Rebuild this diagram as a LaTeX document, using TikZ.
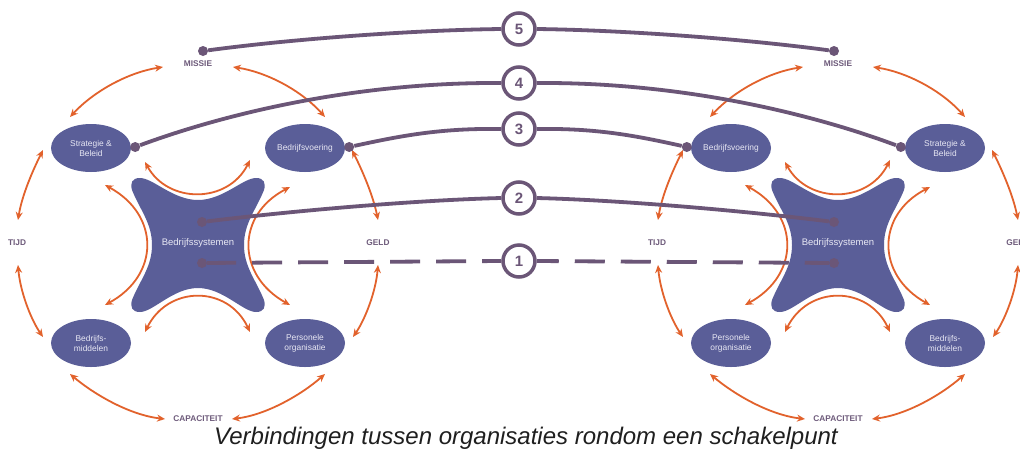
\documentclass[tikz,border=0pt]{standalone}
\usepackage{fontspec}
\setmainfont{Liberation Sans}
\usetikzlibrary{shapes.geometric,arrows.meta,calc}
\definecolor{orng}{HTML}{E2622C}
\definecolor{blu}{HTML}{5A5E98}
\definecolor{purp}{HTML}{6B5677}
\definecolor{lbl}{HTML}{6E5B7B}
\definecolor{etxt}{HTML}{E8E8F4}
\tikzset{
  ell/.style={ellipse, fill=blu, minimum width=80pt, minimum height=48pt, inner sep=0pt,
    text=etxt, font=\fontsize{8.4}{10}\selectfont, align=center},
  lab/.style={text=lbl, font=\fontsize{8.3}{10}\selectfont\bfseries, inner sep=1pt},
  oarr/.style={draw=orng, line width=1.8pt, {Stealth[length=8pt,width=7pt]}-{Stealth[length=8pt,width=7pt]}},
  conn/.style={draw=purp, line width=3.8pt},
  dot/.style={circle, fill=purp, inner sep=0pt, minimum size=10pt},
  num/.style={circle, draw=purp, line width=3.5pt, fill=white, minimum size=32pt, inner sep=0pt,
    text=purp, font=\fontsize{15}{15}\selectfont\bfseries},
  starfill/.style={fill=blu},
  startext/.style={text=etxt, font=\fontsize{9.5}{11}\selectfont, inner sep=0pt}
}
% #1 prefix, #2 x offset, #3 top-left, #4 top-right, #5 bottom-left, #6 bottom-right
\newcommand{\orgdiag}[6]{%
  \fill[starfill, shift={(#2+198,245)}] (0,-45)
    .. controls (25,-45) and (45,-67) .. (58,-67)
    .. controls (66,-67) and (68,-62) .. (66,-55)
    .. controls (58,-35) and (46,-22) .. (46,0)
    .. controls (46,22) and (58,35) .. (66,55)
    .. controls (68,62) and (66,67) .. (58,67)
    .. controls (45,67) and (25,43) .. (0,43)
    .. controls (-25,43) and (-45,67) .. (-58,67)
    .. controls (-66,67) and (-68,62) .. (-66,55)
    .. controls (-58,35) and (-46,22) .. (-46,0)
    .. controls (-46,-22) and (-58,-35) .. (-66,-55)
    .. controls (-68,-62) and (-66,-67) .. (-58,-67)
    .. controls (-45,-67) and (-25,-45) .. (0,-45) -- cycle;
  \node[lab] (#1-ms) at (#2+198,64) {MISSIE};
  \node[ell] (#1-tl) at (#2+91,148) {#3};
  \node[ell] (#1-tr) at (#2+305,148) {#4};
  \node[startext] (#1-st) at (#2+198,243) {Bedrijfssystemen};
  \node[lab] (#1-tj) at (#2+17,243) {TIJD};
  \node[lab] (#1-gd) at (#2+378,243) {GELD};
  \node[ell] (#1-bl) at (#2+91,343) {#5};
  \node[ell] (#1-br) at (#2+305,343) {#6};
  \node[lab] (#1-cp) at (#2+198,419) {CAPACITEIT};
  \draw[oarr] ($(#1-ms)+(-35,3)$) .. controls (#2+130,72) and (#2+95,90) .. ($(#1-tl)+(-21,-31)$);
  \draw[oarr] ($(#1-ms)+(35,3)$) .. controls (#2+266,72) and (#2+301,90) .. ($(#1-tr)+(20,-31)$);
  \draw[oarr] ($(#1-tl)+(-48,2)$) .. controls (#2+33,170) and (#2+22,195) .. ($(#1-tj)+(1,-23)$);
  \draw[oarr] ($(#1-tj)+(1,22)$) .. controls (#2+20,290) and (#2+30,318) .. ($(#1-bl)+(-48,-6)$);
  \draw[oarr] ($(#1-tr)+(47,2)$) .. controls (#2+362,170) and (#2+373,195) .. ($(#1-gd)+(0,-23)$);
  \draw[oarr] ($(#1-gd)+(0,22)$) .. controls (#2+376,290) and (#2+366,318) .. ($(#1-br)+(48,-6)$);
  \draw[oarr] ($(#1-bl)+(-21,31)$) .. controls (#2+95,395) and (#2+130,415) .. ($(#1-cp)+(-33,0)$);
  \draw[oarr] ($(#1-cp)+(34,0)$) .. controls (#2+266,415) and (#2+301,395) .. ($(#1-br)+(20,31)$);
  \draw[oarr] ($(#1-tl)+(54,14)$) .. controls (#2+168,204) and (#2+228,204) .. ($(#1-tr)+(-55,12)$);
  \draw[oarr] ($(#1-bl)+(54,-11)$) .. controls (#2+168,285) and (#2+228,285) .. ($(#1-br)+(-55,-11)$);
  \draw[oarr] ($(#1-st)+(-93,-58)$) .. controls (#2+160,215) and (#2+160,275) .. ($(#1-st)+(-93,62)$);
  \draw[oarr] ($(#1-st)+(92,-56)$) .. controls (#2+236,215) and (#2+236,275) .. ($(#1-st)+(92,62)$);
}
\begin{document}
\begin{tikzpicture}[x=1pt,y=-1pt]
\useasboundingbox[fill=white] (0,0) rectangle (1020,448);
\orgdiag{L}{0}{Strategie \&\\Beleid}{Bedrijfsvoering}{Bedrijfs-\\middelen}{Personele\\organisatie}
\orgdiag{R}{640}{Bedrijfsvoering}{Strategie \&\\Beleid}{Personele\\organisatie}{Bedrijfs-\\middelen}
% connection dots
\node[dot] (L-dms) at ($(L-ms)+(5,-13)$) {};
\node[dot] (L-dtl) at ($(L-tl.east)+(4,-1)$) {};
\node[dot] (L-dtr) at ($(L-tr.east)+(4,-1)$) {};
\node[dot] (L-dst) at ($(L-st)+(4,-21)$) {};
\node[dot] (L-dsb) at ($(L-st)+(4,20)$) {};
\node[dot] (R-dms) at ($(R-ms)+(-4,-13)$) {};
\node[dot] (R-dtl) at ($(R-tl.west)+(-4,-1)$) {};
\node[dot] (R-dtr) at ($(R-tr.west)+(-4,-1)$) {};
\node[dot] (R-dst) at ($(R-st)+(-4,-21)$) {};
\node[dot] (R-dsb) at ($(R-st)+(-4,20)$) {};
% numbered circles
\node[num] (n5) at (519,29) {5};
\node[num] (n4) at (519,83) {4};
\node[num] (n3) at (519,129) {3};
\node[num] (n2) at (519,198) {2};
\node[num] (n1) at (519,261) {1};
% connections
\draw[conn] (L-dms) .. controls (300,38) and (420,30) .. (n5.west);
\draw[conn] (n5.east) .. controls (617,30) and (737,38) .. (R-dms);
\draw[conn] (L-dtl) .. controls (230,112) and (360,82) .. (n4.west);
\draw[conn] (n4.east) .. controls (677,82) and (807,112) .. (R-dtr);
\draw[conn] (L-dtr) .. controls (400,136) and (440,128) .. (n3.west);
\draw[conn] (n3.east) .. controls (597,128) and (637,136) .. (R-dtl);
\draw[conn] (L-dst) .. controls (300,210) and (420,200) .. (n2.west);
\draw[conn] (n2.east) .. controls (617,200) and (737,210) .. (R-dst);
\draw[conn, dash pattern=on 30pt off 16pt, dash phase=1pt] (L-dsb) -- (n1.west);
\draw[conn, dash pattern=on 30pt off 16pt, dash phase=8pt] (n1.east) -- (R-dsb);
% caption
\node[anchor=base, font=\fontsize{24}{28}\selectfont\itshape, text=black!88, inner sep=0pt] (caption) at (526,444)
  {Verbindingen tussen organisaties rondom een schakelpunt};
\end{tikzpicture}
\end{document}
